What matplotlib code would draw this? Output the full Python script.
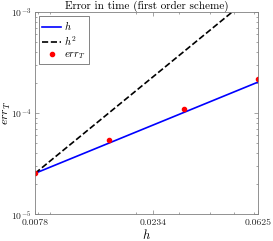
import matplotlib
matplotlib.use('Agg')
import matplotlib.pyplot as plt
from matplotlib.ticker import NullFormatter
import numpy as np

plt.rcParams['font.family'] = 'serif'
plt.rcParams['font.serif'] = ['cmr10']
plt.rcParams['mathtext.fontset'] = 'cm'
plt.rcParams['axes.formatter.use_mathtext'] = True
plt.rcParams['axes.unicode_minus'] = False

# step sizes and measured time errors
h = np.array([1 / 128, 1 / 64, 1 / 32, 1 / 16])
err_T = np.array([2.53e-5, 5.37e-5, 1.10e-4, 2.17e-4])
xtick_labels = ['0.0078', '0.0234', '0.0625']
xtick_vals = [0.0078, 0.0234, 0.0625]

# reference slopes anchored at the first point
c1 = err_T[0] / h[0]
c2 = err_T[0] / h[0] ** 2
ref1 = c1 * h
ref2 = c2 * h ** 2

fig = plt.figure(figsize=(2.73, 2.41), dpi=100)
ax = fig.add_axes([0.128, 0.112, 0.817, 0.838])

ax.loglog(h, ref1, '-', color='#0000ff', lw=1.2, label='$h$')
ax.loglog(h, ref2, '--', color='k', lw=1.2, label='$h^2$')
ax.loglog(h, err_T, '.', color='#ff0000', ms=6, label='$err_T$')

ax.set_xlim(0.0078, 0.0625)
ax.set_ylim(1e-5, 1e-3)
ax.set_xticks(xtick_vals)
ax.set_xticklabels(xtick_labels)
ax.xaxis.set_minor_formatter(NullFormatter())

gray = '#262626'
for s in ax.spines.values():
    s.set_color('#808080')
    s.set_linewidth(0.6)
ax.tick_params(which='both', direction='in', top=True, right=True,
               labelsize=7, colors='#808080', labelcolor=gray, width=0.5)
ax.tick_params(which='major', length=3, pad=2.5)
ax.tick_params(axis='x', which='major', pad=3.5)
ax.tick_params(which='minor', length=1.5)

ax.set_title('Error in time (first order scheme)', fontsize=8, pad=2)
ax.set_xlabel('$h$', fontsize=9)
ax.xaxis.set_label_coords(0.5, -0.07)
ax.set_ylabel('$err_T$', fontsize=8.5)
ax.yaxis.set_label_coords(-0.1, 0.5)

leg = ax.legend(loc='upper left', fontsize=7.5, frameon=True, fancybox=False,
                handlelength=1.8, handletextpad=0.3, borderpad=0.3,
                labelspacing=0.2, borderaxespad=0.4)
leg.get_frame().set_edgecolor(gray)
leg.get_frame().set_linewidth(0.5)

fig.savefig('out.png', dpi=100)
